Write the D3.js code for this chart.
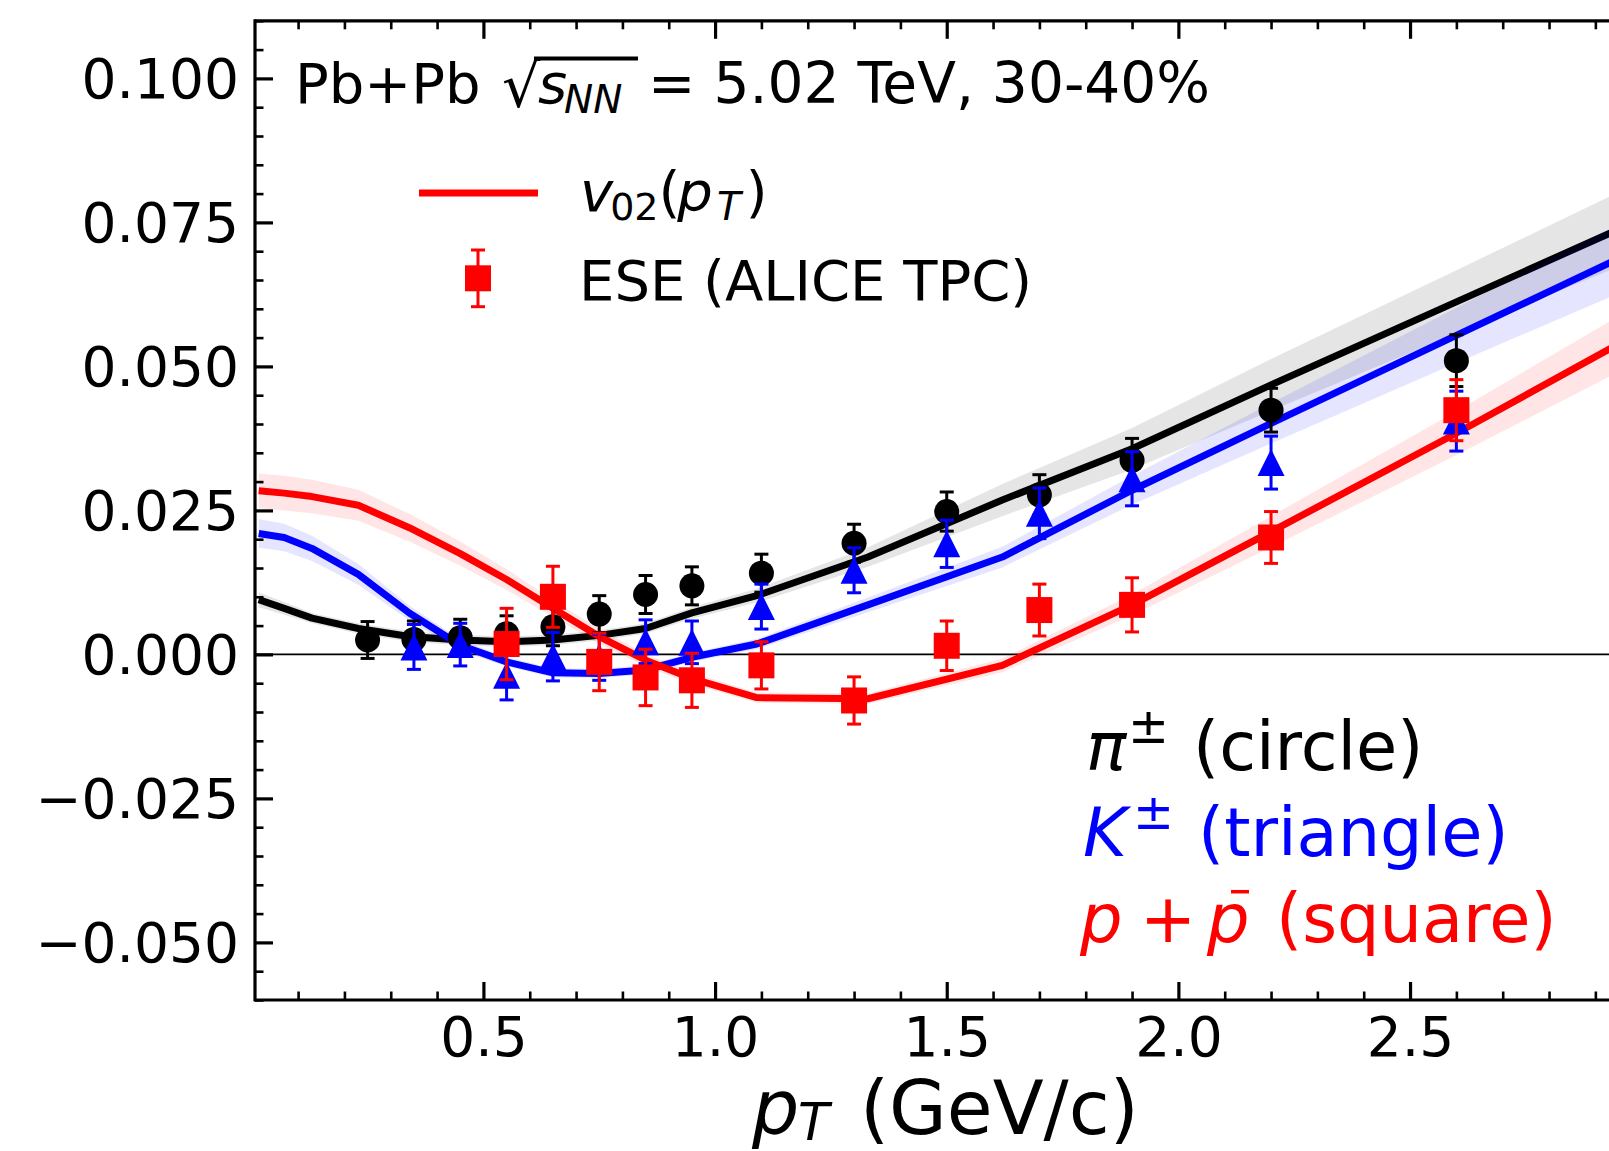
<!DOCTYPE html>
<html>
<head>
<meta charset="utf-8">
<script src="https://d3js.org/d3.v7.min.js"></script>
<style>
  body { margin: 0; background: #fff; }
  svg text { font-family: "DejaVu Sans", sans-serif; }
</style>
</head>
<body>
<svg id="chart" width="1609" height="1151"></svg>
<script>
// measured data points (ESE, ALICE TPC)
const pionPt  = [0.25, 0.35, 0.45, 0.55, 0.65, 0.75, 0.85, 0.95, 1.1, 1.3, 1.5, 1.7, 1.9, 2.2, 2.6];
const pionV2  = [0.0025, 0.0026, 0.0029, 0.0036, 0.0048, 0.0070, 0.0104, 0.0119, 0.0141, 0.0193, 0.0248, 0.0277, 0.0337, 0.0424, 0.0510];
const pionErr = [0.0032, 0.0032, 0.0032, 0.0031, 0.0033, 0.0032, 0.0033, 0.0033, 0.0033, 0.0033, 0.0034, 0.0035, 0.0038, 0.0038, 0.0045];

const kaonPt  = [0.35, 0.45, 0.55, 0.65, 0.75, 0.85, 0.95, 1.1, 1.3, 1.5, 1.7, 1.9, 2.2, 2.6];
const kaonV2  = [0.0013, 0.0017, -0.0036, -0.0004, -0.0005, 0.0022, 0.0021, 0.0083, 0.0146, 0.0192, 0.0245, 0.0305, 0.0333, 0.0405];
const kaonErr = [0.0039, 0.0037, 0.0043, 0.0042, 0.0040, 0.0038, 0.0037, 0.0039, 0.0039, 0.0041, 0.0044, 0.0047, 0.0046, 0.0052];

const protonPt  = [0.55, 0.65, 0.75, 0.85, 0.95, 1.1, 1.3, 1.5, 1.7, 1.9, 2.2, 2.6];
const protonV2  = [0.0018, 0.0100, -0.0013, -0.0040, -0.0045, -0.0019, -0.0080, 0.0015, 0.0077, 0.0086, 0.0203, 0.0424];
const protonErr = [0.0062, 0.0053, 0.0050, 0.0049, 0.0047, 0.0041, 0.0041, 0.0043, 0.0045, 0.0047, 0.0045, 0.0053];

// model curves v02(pT) with their uncertainty bands
const thPt = [0.015, 0.07, 0.13, 0.23, 0.34, 0.45, 0.55, 0.65, 0.75, 0.85, 0.95, 1.09, 1.33, 1.62, 1.9, 2.2, 2.6, 3.0];
const thPion      = [0.0095, 0.0080, 0.0063, 0.0045, 0.0031, 0.0025, 0.0022, 0.0025, 0.0033, 0.0045, 0.0072, 0.0102, 0.0169, 0.0268, 0.0357, 0.0468, 0.0612, 0.0756];
const thPionBand  = [0.0013, 0.0011, 0.0009, 0.0009, 0.0009, 0.0009, 0.0009, 0.0009, 0.0009, 0.0009, 0.0010, 0.0012, 0.0017, 0.0028, 0.0036, 0.0045, 0.0055, 0.0066];
const thKaon      = [0.0210, 0.0203, 0.0184, 0.0139, 0.0072, 0.0016, -0.0013, -0.0032, -0.0033, -0.0027, -0.0005, 0.0018, 0.0086, 0.0169, 0.0285, 0.0401, 0.0554, 0.0706];
const thKaonBand  = [0.0025, 0.0024, 0.0022, 0.0018, 0.0013, 0.0010, 0.0008, 0.0008, 0.0008, 0.0008, 0.0008, 0.0009, 0.0013, 0.0018, 0.0025, 0.0035, 0.0048, 0.0062];
const thProton     = [0.0284, 0.0280, 0.0274, 0.0259, 0.0220, 0.0175, 0.0130, 0.0080, 0.0031, -0.0010, -0.0042, -0.0075, -0.0077, -0.0019, 0.0086, 0.0213, 0.0384, 0.0561];
const thProtonBand = [0.0030, 0.0030, 0.0029, 0.0027, 0.0024, 0.0021, 0.0018, 0.0015, 0.0013, 0.0011, 0.0010, 0.0009, 0.0009, 0.0012, 0.0018, 0.0027, 0.0038, 0.0050];

const xMajor = [0.5, 1.0, 1.5, 2.0, 2.5, 3.0];
const xLabelled = [0.5, 1.0, 1.5, 2.0, 2.5];
const yMajor = [-0.05, -0.025, 0, 0.025, 0.05, 0.075, 0.1];

const svg = d3.select("#chart");

const x = d3.scaleLinear().domain([0.007, 3.0]).range([255, 1641.7]);
const y = d3.scaleLinear().domain([-0.06, 0.11]).range([1000, 20.8]);

const [x0, x1] = x.range();
const [yb, yt] = y.range();

svg.append("clipPath").attr("id", "plotclip")
  .append("rect")
  .attr("x", x0).attr("y", yt)
  .attr("width", x1 - x0).attr("height", yb - yt);

const plot = svg.append("g").attr("clip-path", "url(#plotclip)");

// zero line
plot.append("line")
  .attr("x1", x0).attr("x2", x1)
  .attr("y1", y(0)).attr("y2", y(0))
  .attr("stroke", "#000").attr("stroke-width", 1.6);

const curves = [
  {v: thPion, e: thPionBand, color: "#000000"},
  {v: thKaon, e: thKaonBand, color: "#0000ff"},
  {v: thProton, e: thProtonBand, color: "#ff0000"}
];

const area = d3.area()
  .x(d => x(d.pt))
  .y0(d => y(d.v - d.e))
  .y1(d => y(d.v + d.e));
const line = d3.line()
  .x(d => x(d.pt))
  .y(d => y(d.v));

curves.forEach(c => {
  const rows = thPt.map((pt, i) => ({pt: pt, v: c.v[i], e: c.e[i]}));
  plot.append("path").datum(rows)
    .attr("d", area)
    .attr("fill", c.color).attr("fill-opacity", 0.1);
  plot.append("path").datum(rows)
    .attr("d", line)
    .attr("fill", "none")
    .attr("stroke", c.color).attr("stroke-width", 7)
    .attr("stroke-linejoin", "round");
});

// marker shapes
function marker(g, kind, color) {
  if (kind === "circle") {
    g.append("circle").attr("r", 12.5).attr("fill", color);
  } else if (kind === "triangle") {
    g.append("path").attr("d", "M0,-13.5L13.5,13.5L-13.5,13.5Z").attr("fill", color);
  } else {
    g.append("rect").attr("x", -13).attr("y", -13).attr("width", 26).attr("height", 26).attr("fill", color);
  }
}

function errorbars(g, px, py, pe, kind, color) {
  const rows = px.map((pt, i) => ({pt: pt, v: py[i], e: pe[i]}));
  const pts = g.selectAll(null).data(rows).enter().append("g");
  pts.append("line")
    .attr("x1", d => x(d.pt)).attr("x2", d => x(d.pt))
    .attr("y1", d => y(d.v - d.e)).attr("y2", d => y(d.v + d.e))
    .attr("stroke", color).attr("stroke-width", 3);
  [-1, 1].forEach(s => {
    pts.append("line")
      .attr("x1", d => x(d.pt) - 7).attr("x2", d => x(d.pt) + 7)
      .attr("y1", d => y(d.v + s * d.e)).attr("y2", d => y(d.v + s * d.e))
      .attr("stroke", color).attr("stroke-width", 3);
  });
  pts.append("g")
    .attr("transform", d => `translate(${x(d.pt)},${y(d.v)})`)
    .each(function() { marker(d3.select(this), kind, color); });
}

errorbars(plot, pionPt, pionV2, pionErr, "circle", "#000000");
errorbars(plot, kaonPt, kaonV2, kaonErr, "triangle", "#0000ff");
errorbars(plot, protonPt, protonV2, protonErr, "square", "#ff0000");

// axes: ticks point inward
const xMinor = d3.range(1, 30).filter(i => i % 5 !== 0).map(i => i / 10);
const yMinor = d3.range(-12, 23).filter(i => i % 5 !== 0).map(i => i * 0.005);
const fmt = d3.format(".3f");

function styleAxis(g, w) {
  g.select(".domain").remove();
  g.selectAll(".tick line").attr("stroke", "#000").attr("stroke-width", w);
}

const axBottom = svg.append("g").attr("transform", `translate(0,${yb})`)
  .call(d3.axisBottom(x).tickValues(xMajor).tickSize(-18)
    .tickFormat(d => xLabelled.includes(d) ? d3.format(".1f")(d) : ""));
styleAxis(axBottom, 3.2);
axBottom.selectAll("text").attr("y", 56).attr("dy", null)
  .attr("font-size", 55).attr("fill", "#000");
svg.append("g").attr("transform", `translate(0,${yb})`)
  .call(d3.axisBottom(x).tickValues(xMinor).tickSize(-8.5).tickFormat(""))
  .call(g => styleAxis(g, 2.6));

const axTop = svg.append("g").attr("transform", `translate(0,${yt})`)
  .call(d3.axisTop(x).tickValues(xMajor).tickSize(-18).tickFormat(""));
styleAxis(axTop, 3.2);
svg.append("g").attr("transform", `translate(0,${yt})`)
  .call(d3.axisTop(x).tickValues(xMinor).tickSize(-8.5).tickFormat(""))
  .call(g => styleAxis(g, 2.6));

const axLeft = svg.append("g").attr("transform", `translate(${x0},0)`)
  .call(d3.axisLeft(y).tickValues(yMajor).tickSize(-18).tickPadding(16).tickFormat(fmt));
styleAxis(axLeft, 3.2);
axLeft.selectAll("text").attr("font-size", 55).attr("fill", "#000").attr("dy", "0.35em");
svg.append("g").attr("transform", `translate(${x0},0)`)
  .call(d3.axisLeft(y).tickValues(yMinor).tickSize(-8.5).tickFormat(""))
  .call(g => styleAxis(g, 2.6));

// spines
const spines = svg.append("g").attr("stroke", "#000").attr("stroke-width", 3.2).attr("fill", "none");
spines.append("line").attr("x1", x0).attr("x2", x0).attr("y1", yt - 1.6).attr("y2", yb + 1.6);
spines.append("line").attr("x1", x0).attr("x2", x1).attr("y1", yb).attr("y2", yb);
spines.append("line").attr("x1", x0).attr("x2", x1).attr("y1", yt).attr("y2", yt);

// text helper
function put(s, px, py, size, opts) {
  opts = opts || {};
  return svg.append("text")
    .attr("x", px).attr("y", py)
    .attr("font-size", size)
    .attr("font-style", opts.it ? "italic" : "normal")
    .attr("fill", opts.fill || "#000")
    .attr("text-anchor", opts.anchor || "start")
    .text(s);
}

// title
put("Pb+Pb", 295, 103, 56);
put("\u221A", 502, 107, 60);
svg.append("line").attr("x1", 534).attr("x2", 638).attr("y1", 58.5).attr("y2", 58.5)
  .attr("stroke", "#000").attr("stroke-width", 4);
put("s", 538, 103, 56, {it: true});
put("NN", 564, 113, 39, {it: true});
put("= 5.02 TeV, 30-40%", 648, 103, 56.6);

// legend
svg.append("line").attr("x1", 419).attr("x2", 538).attr("y1", 193).attr("y2", 193)
  .attr("stroke", "#ff0000").attr("stroke-width", 7);
const lg = svg.append("g");
lg.append("line").attr("x1", 478).attr("x2", 478).attr("y1", 250).attr("y2", 306.7)
  .attr("stroke", "#ff0000").attr("stroke-width", 3);
[250, 306.7].forEach(cy => lg.append("line").attr("x1", 471).attr("x2", 485)
  .attr("y1", cy).attr("y2", cy).attr("stroke", "#ff0000").attr("stroke-width", 3));
marker(lg.append("g").attr("transform", "translate(478,278.3)"), "square", "#ff0000");

// v02(pT) as one text run
const v02 = svg.append("text").attr("x", 580).attr("y", 211).attr("font-size", 56).attr("fill", "#000");
v02.append("tspan").attr("font-style", "italic").text("v");
v02.append("tspan").attr("font-size", 38).attr("dx", -3).attr("dy", 9).text("02");
v02.append("tspan").attr("dy", -9).text("(");
v02.append("tspan").attr("font-style", "italic").attr("dx", -3).text("p");
v02.append("tspan").attr("font-style", "italic").attr("font-size", 39).attr("dx", 4).attr("dy", 9).text("T");
v02.append("tspan").attr("dx", 5).attr("dy", -9).text(")");
put("ESE (ALICE TPC)", 579, 300, 56);

// species labels
put("\u03C0", 1086, 770, 67, {it: true});
put("\u00B1", 1128, 743, 49);
put("(circle)", 1193, 770, 67);

put("K", 1083, 856, 67, {it: true, fill: "#0000ff"});
put("\u00B1", 1133, 829, 49, {fill: "#0000ff"});
put("(triangle)", 1198, 856, 67, {fill: "#0000ff"});

put("p", 1080, 942, 67, {it: true, fill: "#ff0000"});
put("+", 1140, 942, 67, {fill: "#ff0000"});
put("p", 1207, 942, 67, {it: true, fill: "#ff0000"});
svg.append("line").attr("x1", 1231).attr("x2", 1249).attr("y1", 891.7).attr("y2", 891.7)
  .attr("stroke", "#ff0000").attr("stroke-width", 3.5);
put("(square)", 1276, 942, 67, {fill: "#ff0000"});

// x axis label
put("p", 752, 1134, 74.5, {it: true});
put("T", 798, 1140, 51, {it: true});
put("(GeV/c)", 860, 1134, 74.5);
</script>
</body>
</html>
